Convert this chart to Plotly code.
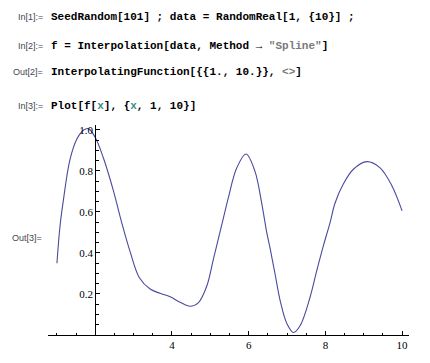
import plotly.graph_objects as go

curve_x = [1.00, 1.08, 1.17, 1.34, 1.52, 1.69, 1.82, 1.99, 2.21, 2.47, 2.69, 2.91,
           3.15, 3.43, 3.69, 3.95, 4.21, 4.47, 4.69, 4.91, 5.08, 5.21, 5.34, 5.47,
           5.69, 5.93, 6.16, 6.34, 6.47, 6.56, 6.69, 6.82, 6.99, 7.17, 7.34, 7.60,
           7.77, 7.95, 8.12, 8.25, 8.47, 8.73, 9.08, 9.42, 9.73, 10.00]
curve_y = [0.350, 0.530, 0.660, 0.855, 0.955, 0.998, 1.006, 0.966, 0.864, 0.705, 0.547, 0.405,
           0.279, 0.224, 0.203, 0.186, 0.160, 0.140, 0.158, 0.240, 0.370, 0.470, 0.570, 0.670,
           0.815, 0.882, 0.800, 0.642, 0.500, 0.421, 0.295, 0.168, 0.058, 0.012, 0.045, 0.184,
           0.310, 0.437, 0.547, 0.642, 0.737, 0.808, 0.845, 0.816, 0.729, 0.605]

x_tick_vals = [4, 6, 8, 10]
x_tick_text = ["4", "6", "8", "10"]
y_tick_vals = [0.2, 0.4, 0.6, 0.8, 1.0]
y_tick_text = ["0.2", "0.4", "0.6", "0.8", "1.0"]

W, H = 430, 363
ML, MR, MT, MB = 48, 21, 125, 22
PW, PH = W - ML - MR, H - MT - MB
X_RANGE = [0.767, 10.18]
Y_RANGE = [0.0, PH / 211.0]

def px(xp):
    return (xp - ML) / PW

def py(yp):
    return (H - MB - yp) / PH

fig = go.Figure()
fig.add_trace(go.Scatter(x=curve_x, y=curve_y, mode="lines",
                         line=dict(color="#4a4a9c", width=1.1, shape="spline", smoothing=1.0),
                         hoverinfo="skip", showlegend=False))

tickfont = dict(family="Liberation Serif, Times New Roman, serif", size=11, color="black")
fig.update_layout(
    width=W, height=H,
    margin=dict(l=ML, r=MR, t=MT, b=MB, pad=0),
    paper_bgcolor="white", plot_bgcolor="white",
    showlegend=False,
    xaxis=dict(range=X_RANGE, showgrid=False, zeroline=False, showline=True,
               linecolor="black", linewidth=1, ticks="inside", ticklen=4, tickcolor="black",
               tickvals=x_tick_vals, ticktext=x_tick_text, tickfont=tickfont,
               minor=dict(ticks="inside", dtick=0.5, tick0=0, ticklen=2.5, tickcolor="black",
                          showgrid=False)),
    yaxis=dict(range=Y_RANGE, showgrid=False, zeroline=False, showline=True,
               linecolor="black", linewidth=1, ticks="inside", ticklen=4, tickcolor="black",
               anchor="free", position=(2 - X_RANGE[0]) / (X_RANGE[1] - X_RANGE[0]),
               tickvals=y_tick_vals, ticktext=y_tick_text, tickfont=tickfont,
               minor=dict(ticks="inside", dtick=0.05, tick0=0, ticklen=2.5, tickcolor="black",
                          showgrid=False)),
)

label_font = dict(family="Liberation Sans, Arial, sans-serif", size=9, color="#3f4650")
code_font = dict(family="Liberation Mono, Courier New, monospace", size=11, color="black")
GRAY = "#7a7a7a"
TEAL = "#3c8a8a"

labels = [("In[1]:=", 16, 14), ("In[2]:=", 16, 43.5), ("Out[2]=", 11, 70.5),
          ("In[3]:=", 16, 105), ("Out[3]=", 10, 241)]
for t, xx, yy in labels:
    fig.add_annotation(text=t, x=px(xx), y=py(yy), xref="paper", yref="paper",
                       xanchor="left", yanchor="middle", showarrow=False, font=label_font)

code_lines = [
    ("<b>SeedRandom[101] ; data = RandomReal[1, {10}] ;</b>", 14),
    ("<b>f = Interpolation[data, Method \u2192 <span style='color:%s'>\"Spline\"</span>]</b>" % GRAY, 43.5),
    ("<b>InterpolatingFunction[{{1., 10.}}, <span style='color:%s'>&lt;&gt;</span>]</b>" % GRAY, 70.5),
    ("<b>Plot[f[<span style='color:%s'>x</span>], {<span style='color:%s'>x</span>, 1, 10}]</b>" % (TEAL, TEAL), 105),
]
for t, yy in code_lines:
    fig.add_annotation(text=t, x=px(49), y=py(yy), xref="paper", yref="paper",
                       xanchor="left", yanchor="middle", showarrow=False, font=code_font)

fig.write_html("out.html")
